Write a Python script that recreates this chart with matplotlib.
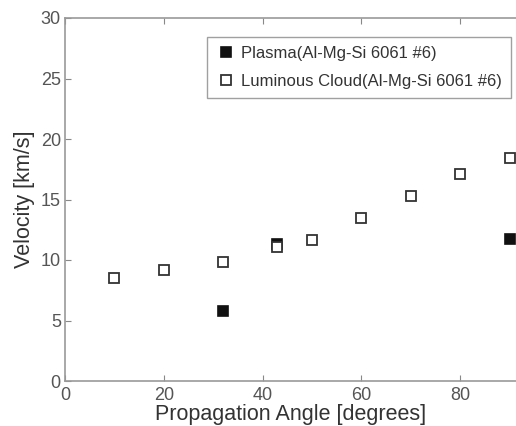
import matplotlib
matplotlib.use("Agg")
import matplotlib.pyplot as plt

plt.rcParams['font.family'] = ['Liberation Sans', 'DejaVu Sans']

plasma_angle = [32, 43, 90]
plasma_vel = [5.8, 11.3, 11.7]
cloud_angle = [10, 20, 32, 43, 50, 60, 70, 80, 90]
cloud_vel = [8.55, 9.15, 9.8, 11.05, 11.65, 13.5, 15.3, 17.1, 18.4]
x_ticks = [0, 20, 40, 60, 80]
y_ticks = [0, 5, 10, 15, 20, 25, 30]

fig = plt.figure(figsize=(5.16, 4.26), dpi=100)
ax = fig.add_axes([65/516, 1-381/426, 451/516, 363/426])

ax.plot(plasma_angle, plasma_vel, linestyle='none', marker='s', markersize=6.5,
        markerfacecolor='#111111', markeredgecolor='#111111', markeredgewidth=1.2,
        label='Plasma(Al-Mg-Si 6061 #6)', clip_on=False)
ax.plot(cloud_angle, cloud_vel, linestyle='none', marker='s', markersize=6.5,
        markerfacecolor='white', markeredgecolor='#333333', markeredgewidth=1.3,
        label='Luminous Cloud(Al-Mg-Si 6061 #6)', clip_on=False)

ax.set_xlim(0, 91.3)
ax.set_ylim(0, 30)
ax.set_xticks(x_ticks)
ax.set_yticks(y_ticks)
ax.tick_params(direction='in', length=4, width=0.8, color='#888888',
               labelcolor='#555555', labelsize=13, top=True)
ax.tick_params(axis='x', pad=4)
ax.tick_params(axis='y', pad=3)
for s in ax.spines.values():
    s.set_color('#999999')
    s.set_linewidth(1.2)
ax.spines['right'].set_visible(False)

ax.set_xlabel('Propagation Angle [degrees]', fontsize=15.5, color='#333333', labelpad=0)
ax.set_ylabel('Velocity [km/s]', fontsize=15.5, color='#333333', labelpad=4)

leg = ax.legend(loc='upper right', bbox_to_anchor=(446/451, 1-19/363), fontsize=12,
                frameon=True, fancybox=False, edgecolor='#888888', borderpad=0.55,
                borderaxespad=0, handletextpad=0.3, handlelength=1.2, labelspacing=0.75)
leg.get_frame().set_linewidth(1.0)
for t in leg.get_texts():
    t.set_color('#333333')

fig.savefig('out.png', dpi=100)
